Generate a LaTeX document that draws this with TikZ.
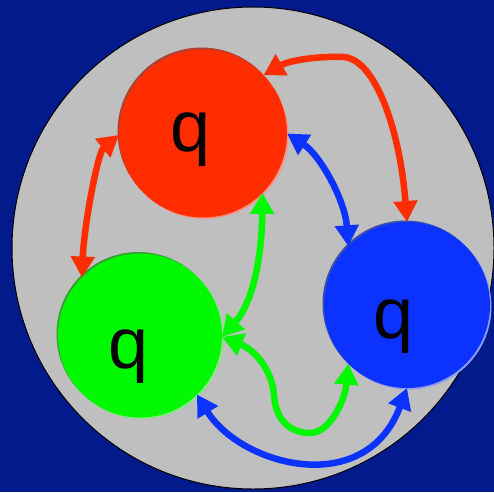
\documentclass[tikz,border=0pt]{standalone}
\usepackage{fontspec}
\setmainfont{Liberation Sans}
\usetikzlibrary{arrows.meta}
\definecolor{bgblue}{RGB}{2,26,140}
\definecolor{diskgray}{RGB}{190,191,190}
\definecolor{qred}{RGB}{255,45,0}
\definecolor{qgreen}{RGB}{0,248,0}
\definecolor{qblue}{RGB}{12,50,255}
\definecolor{redDark}{RGB}{175,65,50}
\definecolor{redLight}{RGB}{245,150,140}
\definecolor{greenDark}{RGB}{50,160,50}
\definecolor{greenLight}{RGB}{130,235,130}
\definecolor{blueDark}{RGB}{60,80,170}
\definecolor{blueLight}{RGB}{140,155,245}
\tikzset{
  ball/.style={circle, inner sep=0pt, outer sep=0pt, minimum size=#1},
  qlabel/.style={inner sep=0pt, anchor=base, font=\fontsize{72}{80}\selectfont, text=black},
  conn/.style={line width=6.5pt, {Triangle[width=23pt,length=21pt]}-{Triangle[width=23pt,length=21pt]}},
}
\begin{document}
\begin{tikzpicture}[x=1pt,y=-1pt]
\fill[bgblue] (0,0) rectangle (494,492);
\useasboundingbox (0,0) rectangle (494,492);
\node[ball=482pt, fill=diskgray, draw=black, line width=1pt] (disk) at (253,248) {};
% soft edges
\fill[redDark] (201.5,131.5) circle (84pt);
\fill[redLight] (204.5,135) circle (84pt);
\fill[greenDark] (138.5,334) circle (82pt);
\fill[greenLight] (141.5,337) circle (82pt);
\fill[blueDark] (405.5,303.5) circle (83pt);
\fill[blueLight] (408.5,306.5) circle (83pt);
% balls
\node[ball=168pt, fill=qred] (R) at (203,133.5) {};
\node[ball=164pt, fill=qgreen] (G) at (140,335.5) {};
\node[ball=166pt, fill=qblue] (B) at (407,305) {};
\node[qlabel] (qR) at (191,151) {q};
\node[qlabel] (qG) at (128.5,368) {q};
\node[qlabel] (qB) at (394,338) {q};
% connectors
\draw[conn, qred] (R.44) .. controls (290,60) and (320,56) .. (343,57)
   .. controls (375,58) and (400,130) .. (B.90);
\draw[conn, qred] (R.181) .. controls (98,152) and (84,225) .. (G.135);
\draw[conn, qblue] (R.0) .. controls (320,155) and (345,200) .. (B.135);
\draw[conn, qgreen] (G.-1) .. controls (255,300) and (262,250) .. (R.-45);
\draw[conn, qgreen] (G.-1) .. controls (255,350) and (272,370) .. (274,395)
   .. controls (276,425) and (295,433) .. (310,433)
   .. controls (330,433) and (345,400) .. (B.-135);
\draw[conn, qblue] (G.-46) .. controls (240,465) and (365,500) .. (B.-90);
\end{tikzpicture}
\end{document}
